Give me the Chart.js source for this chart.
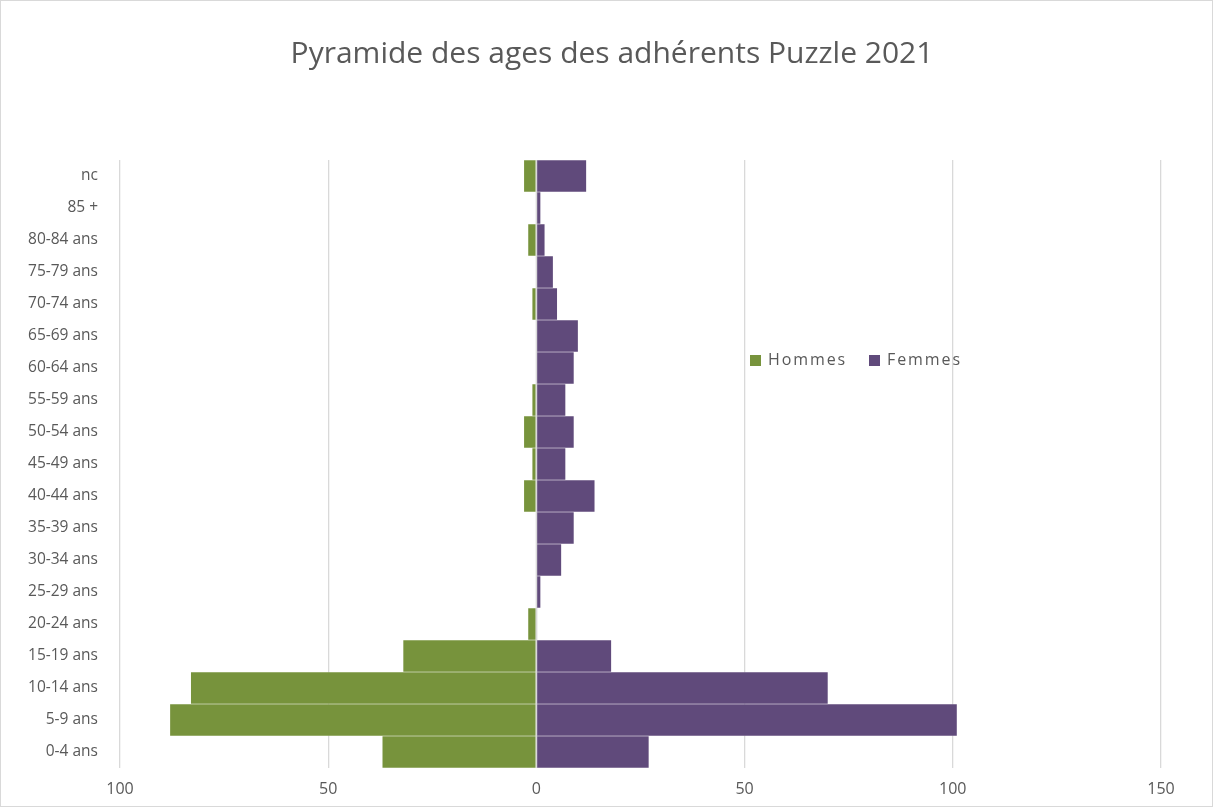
<!DOCTYPE html>
<html>
<head>
<meta charset="utf-8">
<script src="https://cdn.jsdelivr.net/npm/chart.js@4"></script>
<style>
  html, body { margin: 0; padding: 0; background: #fff; }
  #wrap { position: relative; width: 1213px; height: 807px; box-sizing: border-box; border: 1px solid #d9d9d9; }
  #title { position: absolute; left: 0; width: 1222px; top: 31px; text-align: center; font-family: "Open Sans", sans-serif; font-size: 30px; line-height: 40px; color: #595959; }
  #legend { position: absolute; left: 749px; top: 347px; font-family: "Open Sans", sans-serif; font-size: 16px; color: #595959; display: flex; gap: 22px; letter-spacing: 1.9px; }
  #legend span.box { display: inline-block; width: 11px; height: 11px; margin-right: 7px; vertical-align: -1px; }
</style>
</head>
<body>
<div id="wrap">
  <canvas id="chart" width="1211" height="805"></canvas>
  <div id="title">Pyramide des ages des adhérents Puzzle 2021</div>
  <div id="legend"></div>
</div>
<script>
// age groups, bottom to top
const ageGroups = ['0-4 ans', '5-9 ans', '10-14 ans', '15-19 ans', '20-24 ans', '25-29 ans',
    '30-34 ans', '35-39 ans', '40-44 ans', '45-49 ans', '50-54 ans', '55-59 ans',
    '60-64 ans', '65-69 ans', '70-74 ans', '75-79 ans', '80-84 ans', '85 +', 'nc'];
const hommes = [37, 88, 83, 32, 2, 0, 0, 0, 3, 1, 3, 1, 0, 0, 1, 0, 2, 0, 3];
const femmes = [27, 101, 70, 18, 0, 1, 6, 9, 14, 7, 9, 7, 9, 10, 5, 4, 2, 1, 12];
const xTicks = [-100, -50, 0, 50, 100, 150];

const series = [
    { label: 'Hommes', data: hommes.map(v => -v), color: '#77933C' },
    { label: 'Femmes', data: femmes, color: '#604A7B' }
];

const ctx = document.getElementById('chart').getContext('2d');
const chart = new Chart(ctx, {
    type: 'bar',
    data: {
        labels: ageGroups,
        datasets: series.map(s => ({
            label: s.label,
            data: s.data,
            backgroundColor: s.color,
            borderColor: 'rgba(255,255,255,0.5)',
            borderWidth: 0.5,
            barPercentage: 1,
            categoryPercentage: 1
        }))
    },
    options: {
        indexAxis: 'y',
        responsive: false,
        animation: false,
        layout: { padding: { left: 9, right: 51, top: 159, bottom: 0 } },
        scales: {
            x: {
                stacked: true,
                min: xTicks[0],
                max: xTicks[xTicks.length - 1],
                afterBuildTicks: axis => { axis.ticks = xTicks.map(v => ({ value: v })); },
                afterFit: axis => { axis.height = 38; },
                grid: { color: '#d9d9d9', lineWidth: 1.3, drawTicks: false },
                border: { display: false },
                ticks: {
                    color: '#595959',
                    padding: 12,
                    font: { family: 'Open Sans', size: 16 },
                    callback: v => Math.abs(v)
                }
            },
            y: {
                stacked: true,
                reverse: true,
                afterFit: axis => { axis.width = 110; },
                grid: { display: false },
                border: { display: false },
                ticks: {
                    color: '#595959',
                    padding: 14,
                    font: { family: 'Open Sans', size: 15.5 }
                }
            }
        },
        plugins: {
            legend: { display: false },
            tooltip: { enabled: false },
            title: { display: false }
        }
    },
    plugins: [{
        // draw the zero axis line on top of the bars
        id: 'zeroLine',
        afterDatasetsDraw(c) {
            const x = c.scales.x.getPixelForValue(0);
            const a = c.chartArea;
            c.ctx.save();
            c.ctx.strokeStyle = '#d9d9d9';
            c.ctx.lineWidth = 1.5;
            c.ctx.beginPath();
            c.ctx.moveTo(x, a.top);
            c.ctx.lineTo(x, a.bottom);
            c.ctx.stroke();
            c.ctx.restore();
        }
    }]
});

document.getElementById('legend').innerHTML = series
    .map(s => `<span><span class="box" style="background:${s.color}"></span>${s.label}</span>`)
    .join('');
</script>
</body>
</html>
